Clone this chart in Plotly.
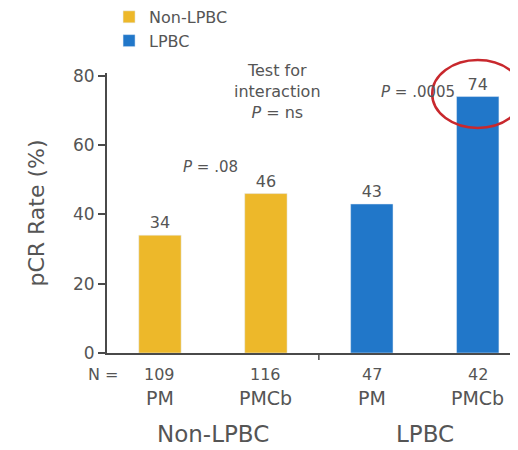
import plotly.graph_objects as go

groups = ["Non-LPBC", "LPBC"]
treat = ["PM", "PMCb", "PM", "PMCb"]
n_vals = [109, 116, 47, 42]
pcr_nonlpbc = [34, 46]
pcr_lpbc = [43, 74]
x_pos = [0, 1, 2, 3]
group_centers = [0.5, 2.5]

yellow = "#EDB82A"
blue = "#2177C9"
txt = "#555555"
axc = "#4a4a4a"
font = "DejaVu Sans, Verdana, sans-serif"

fig = go.Figure()
fig.add_trace(go.Bar(x=x_pos[:2], y=pcr_nonlpbc, name=groups[0], marker_color=yellow,
                     width=0.4, text=[str(v) for v in pcr_nonlpbc], textposition="outside",
                     textfont=dict(size=16, color=txt), cliponaxis=False))
fig.add_trace(go.Bar(x=x_pos[2:], y=pcr_lpbc, name=groups[1], marker_color=blue,
                     width=0.4, text=[str(v) for v in pcr_lpbc], textposition="outside",
                     textfont=dict(size=16, color=txt), cliponaxis=False))

# the page body adds an 8px offset, so the figure is 510x442 inside the 518x450 window
fig.update_layout(
    width=510, height=442, barmode="overlay",
    margin=dict(l=99, r=0, t=65, b=97, autoexpand=False),
    plot_bgcolor="white", paper_bgcolor="white",
    font=dict(family=font, color=txt),
    legend=dict(x=0.005, y=1.261, xanchor="left", yanchor="top", font=dict(size=16, color=txt),
                tracegroupgap=0, bgcolor="rgba(0,0,0,0)"),
    xaxis=dict(range=[-0.5, 3.38], tickvals=x_pos, showticklabels=False,
               showline=True, linecolor=axc, linewidth=2, ticks="", showgrid=False,
               zeroline=False, automargin=False),
    yaxis=dict(range=[0, 80.8], tickvals=[0, 20, 40, 60, 80], ticks="outside", ticklen=7,
               tickcolor=axc, tickwidth=1.5, showline=True, linecolor=axc, linewidth=2,
               tickfont=dict(size=17, color=txt), showgrid=False, zeroline=False,
               automargin=False,
               title=dict(text="pCR Rate (%)", font=dict(size=22, color=txt), standoff=22)),
)

# group separator tick on x axis
fig.add_shape(type="line", xref="x", yref="paper", x0=1.5, x1=1.5, y0=0, y1=-0.025,
              line=dict(color=axc, width=1.5))

# highlight ellipse
fig.add_shape(type="circle", xref="x", yref="paper", x0=2.57, x1=3.43, y0=0.804, y1=1.046,
              line=dict(color="#C8282D", width=2.5))

ann = [
    dict(x=0.476, y=53.7, text="<i>P</i> = .08", size=15),
    dict(x=1.11, y=75.4, text="Test for<br>interaction<br><i>P</i> = ns", size=16),
    dict(x=2.44, y=75.4, text="<i>P</i> = .0005", size=15),
]
for a in ann:
    fig.add_annotation(x=a["x"], y=a["y"], xref="x", yref="y", text=a["text"], showarrow=False,
                       font=dict(size=a["size"], color=txt))

# N row and treatment row under the axis
fig.add_annotation(x=-0.0097, y=-0.075, xref="paper", yref="paper", xanchor="center",
                   yanchor="middle", text="N =", showarrow=False, font=dict(size=16, color=txt))
for xv, n, t in zip(x_pos, n_vals, treat):
    fig.add_annotation(x=xv, y=-0.075, xref="x", yref="paper", yanchor="middle", text=str(n),
                       showarrow=False, font=dict(size=16, color=txt))
    fig.add_annotation(x=xv, y=-0.161, xref="x", yref="paper", yanchor="middle", text=t,
                       showarrow=False, font=dict(size=19, color=txt))

for g, xc in zip(groups, group_centers):
    fig.add_annotation(x=xc, y=-0.289, xref="x", yref="paper", yanchor="middle", text=g,
                       showarrow=False, borderpad=0, font=dict(size=23, color=txt))

fig.write_html("out.html")
